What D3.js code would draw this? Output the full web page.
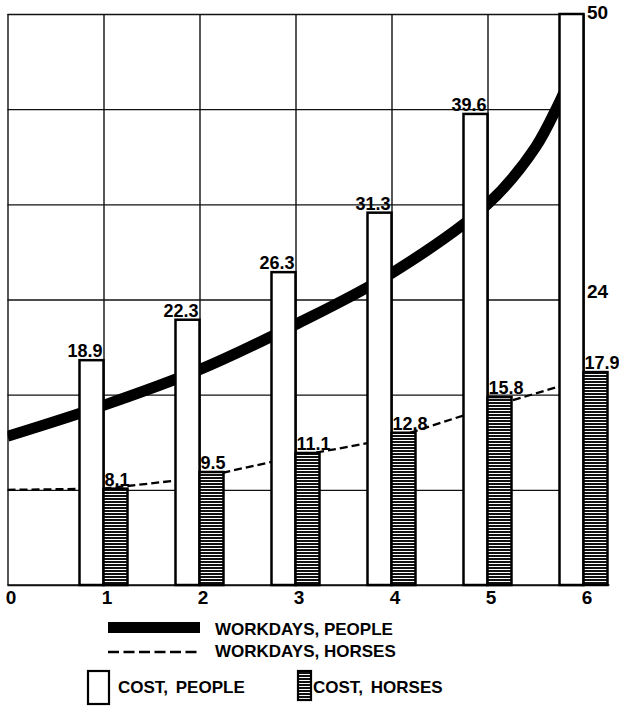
<!DOCTYPE html>
<html>
<head>
<meta charset="utf-8">
<script src="https://cdn.jsdelivr.net/npm/d3@7"></script>
<style>
  html, body { margin: 0; padding: 0; background: #fff; }
  svg { display: block; }
  text { font-family: "Liberation Sans", Arial, sans-serif; font-weight: bold; fill: #000; }
</style>
</head>
<body>
<div id="chart"></div>
<script>
// ---- data ----
const categories = [1, 2, 3, 4, 5, 6];
const costPeople = [18.9, 22.3, 26.3, 31.3, 39.6, 50];
const costHorses = [8.1, 9.5, 11.1, 12.8, 15.8, 17.9];
const xTickLabels = ["0", "1", "2", "3", "4", "5", "6"];
const yGridTicks = [0, 8, 16, 24, 32, 40, 48];
const workdaysPeopleX = [0, 1, 2, 3, 4, 5, 5.5, 5.8];
const workdaysPeople = [12.5, 15.1, 18.1, 21.9, 26.2, 32.0, 36.8, 41.5];
const workdaysHorsesX = [0, 1, 2, 3, 4, 5, 6];
const workdaysHorses = [8.0, 8.1, 9.0, 10.8, 12.3, 14.9, 17.3];
const rightLabels = ["50", "24"];
const rightLabelValues = [50, 24];
const legendLabels = ["WORKDAYS, PEOPLE", "WORKDAYS, HORSES", "COST, PEOPLE", "COST, HORSES"];

(function () {
// ---- layout ----
const W = 619, H = 708;
const pL = 7.5, pR = 583.5, pT = 14, pB = 585;

const x = d3.scaleLinear().domain([0, 6]).range([pL, pR]);
const y = d3.scaleLinear().domain([0, 48]).range([pB, pT]).clamp(true);

const svg = d3.select("#chart").append("svg")
  .attr("width", W).attr("height", H)
  .attr("viewBox", `0 0 ${W} ${H}`);

svg.append("rect").attr("width", W).attr("height", H).attr("fill", "#fff");

const defs = svg.append("defs");
const pat = defs.append("pattern").attr("id", "stripes")
  .attr("patternUnits", "userSpaceOnUse").attr("width", 6).attr("height", 3);
pat.append("rect").attr("width", 6).attr("height", 3).attr("fill", "#fff");
pat.append("rect").attr("width", 6).attr("height", 2).attr("fill", "#111");

defs.append("clipPath").attr("id", "plotclip").append("rect")
  .attr("x", pL).attr("y", pT).attr("width", pR - pL).attr("height", pB - pT);

// ---- grid via axes ----
const gx = svg.append("g").attr("transform", `translate(0,${pB})`)
  .call(d3.axisBottom(x).tickValues(d3.range(0, 7)).tickSize(-(pB - pT)).tickFormat(""));
gx.select(".domain").remove();
gx.selectAll("line").attr("stroke", "#111").attr("stroke-width", 1.4);

const gy = svg.append("g").attr("transform", `translate(${pL},0)`)
  .call(d3.axisLeft(y).tickValues(yGridTicks).tickSize(-(pR - pL)).tickFormat(""));
gy.select(".domain").remove();
gy.selectAll("line").attr("stroke", "#111").attr("stroke-width", 1.4);

// baseline extends under last horse bar
svg.append("line").attr("x1", pL).attr("x2", x(6.27))
  .attr("y1", y(0)).attr("y2", y(0)).attr("stroke", "#111").attr("stroke-width", 1.6);

// ---- lines ----
const linesG = svg.append("g").attr("clip-path", "url(#plotclip)");
const peopleLine = d3.line().x(d => x(d[0])).y(d => y(d[1])).curve(d3.curveCatmullRom.alpha(0.5));
linesG.append("path")
  .attr("d", peopleLine(d3.zip(workdaysPeopleX, workdaysPeople)))
  .attr("fill", "none").attr("stroke", "#000").attr("stroke-width", 11);

const horseLine = d3.line().x(d => x(d[0])).y(d => y(d[1]));
linesG.append("path")
  .attr("d", horseLine(d3.zip(workdaysHorsesX, workdaysHorses)))
  .attr("fill", "none").attr("stroke", "#000").attr("stroke-width", 2.3)
  .attr("stroke-dasharray", "8,4");

// ---- bars ----
const bw = 0.25;
svg.append("g").selectAll("rect").data(d3.zip(categories, costPeople)).join("rect")
  .attr("x", d => x(d[0] - bw)).attr("width", d => x(d[0]) - x(d[0] - bw))
  .attr("y", d => y(d[1])).attr("height", d => y(0) - y(d[1]))
  .attr("fill", "#fff").attr("stroke", "#000").attr("stroke-width", 2.5);

svg.append("g").selectAll("rect").data(d3.zip(categories, costHorses)).join("rect")
  .attr("x", d => x(d[0])).attr("width", d => x(d[0] + bw) - x(d[0]))
  .attr("y", d => y(d[1])).attr("height", d => y(0) - y(d[1]))
  .attr("fill", "url(#stripes)").attr("stroke", "#000").attr("stroke-width", 2.5);

// ---- bar labels ----
svg.append("g").selectAll("text").data(d3.zip(categories, costPeople).filter(d => d[1] < 48)).join("text")
  .attr("x", d => x(d[0]) - 1).attr("y", d => y(d[1]) - 3)
  .attr("text-anchor", "end").attr("font-size", 18)
  .text(d => d[1].toFixed(1));

svg.append("g").selectAll("text").data(d3.zip(categories, costHorses)).join("text")
  .attr("x", d => x(d[0]) + 1).attr("y", d => y(d[1]) - 3)
  .attr("text-anchor", "start").attr("font-size", 18)
  .text(d => d[1].toFixed(1));

// right side labels
svg.append("g").selectAll("text").data(d3.zip(rightLabels, rightLabelValues)).join("text")
  .attr("x", x(6) + 3.5)
  .attr("y", (d, i) => i === 0 ? y(d[1]) + 5 : y(d[1]) - 1.5)
  .attr("font-size", 19)
  .text(d => d[0]);

// ---- x tick labels ----
svg.append("g").selectAll("text").data(xTickLabels).join("text")
  .attr("x", (d, i) => x(i) + 3.5).attr("y", 604)
  .attr("text-anchor", "middle").attr("font-size", 19)
  .text(d => d);

// ---- legend ----
const lg = svg.append("g");
lg.append("rect").attr("x", 108).attr("y", 622).attr("width", 92).attr("height", 11).attr("fill", "#000");
lg.append("text").attr("x", 215).attr("y", 635).attr("font-size", 17).text(legendLabels[0]);
lg.append("line").attr("x1", 108).attr("x2", 200).attr("y1", 652).attr("y2", 652)
  .attr("stroke", "#000").attr("stroke-width", 2.6).attr("stroke-dasharray", "11,4.5");
lg.append("text").attr("x", 215).attr("y", 657).attr("font-size", 17).text(legendLabels[1]);
lg.append("rect").attr("x", 88).attr("y", 671).attr("width", 21).attr("height", 33)
  .attr("fill", "#fff").attr("stroke", "#000").attr("stroke-width", 2.2);
lg.append("text").attr("x", 118).attr("y", 693).attr("font-size", 17).attr("word-spacing", 3).text(legendLabels[2]);
lg.append("rect").attr("x", 298).attr("y", 671).attr("width", 13).attr("height", 29)
  .attr("fill", "url(#stripes)").attr("stroke", "#000").attr("stroke-width", 2.2);
lg.append("text").attr("x", 313).attr("y", 693).attr("font-size", 17).attr("word-spacing", 3).text(legendLabels[3]);
})();
</script>
</body>
</html>
